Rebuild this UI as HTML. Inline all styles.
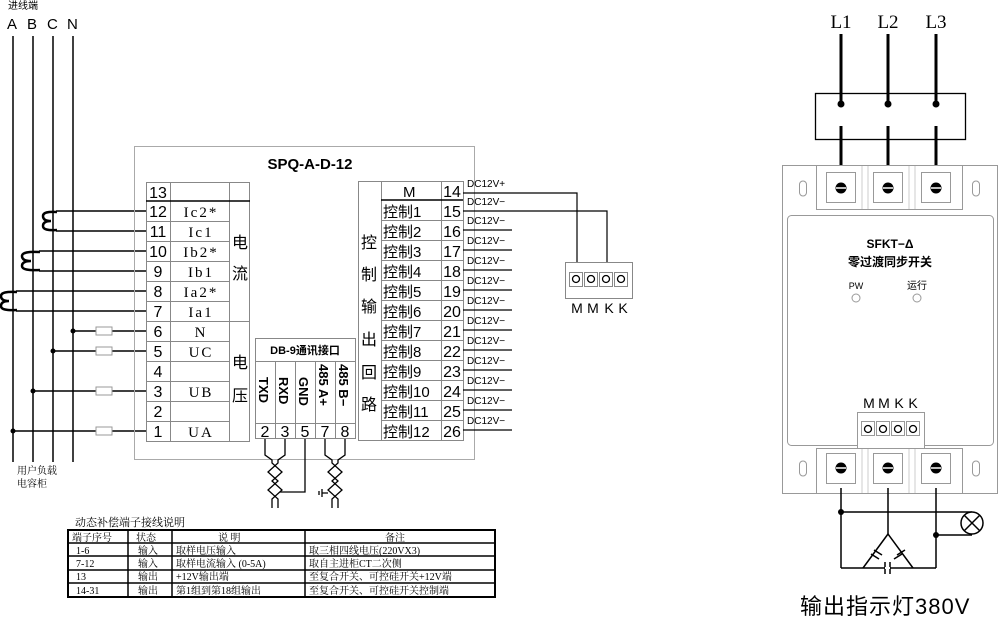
<!DOCTYPE html>
<html><head><meta charset="utf-8"><style>
html,body{margin:0;padding:0;background:#fff}
svg{display:block}
text{font-family:"Liberation Sans","Noto Sans CJK SC",sans-serif;fill:#000}
.s{font-family:"Liberation Serif","Noto Serif CJK SC",serif}
</style></head><body>
<svg width="1000" height="620" viewBox="0 0 1000 620" xmlns="http://www.w3.org/2000/svg">
<text x="8" y="9" font-size="10" fill="#333">进线端</text>
<g font-size="15"><text x="7" y="29">A</text><text x="27" y="29">B</text><text x="47" y="29">C</text><text x="67" y="29">N</text></g>
<g stroke="#000" stroke-width="1.5">
<line x1="13" y1="36" x2="13" y2="462"/><line x1="33" y1="36" x2="33" y2="462"/><line x1="53" y1="36" x2="53" y2="462"/><line x1="73" y1="36" x2="73" y2="462"/>
</g>
<text x="17" y="474" font-size="10" class="s">用户负载</text>
<text x="17" y="487" font-size="10" class="s">电容柜</text>
<g stroke="#000" stroke-width="1.5" fill="none">
<line x1="56" y1="211" x2="146" y2="211"/><line x1="56" y1="231" x2="146" y2="231"/>
<line x1="39" y1="251" x2="146" y2="251"/><line x1="39" y1="271" x2="146" y2="271"/>
<line x1="16" y1="291" x2="146" y2="291"/><line x1="16" y1="311" x2="146" y2="311"/>
<g stroke-width="2.5">
<path d="M57,212 Q43,211 43,216 Q43,221 51,221 Q43,221 43,226 Q43,231 57,230"/>
<path d="M40,252 Q22,251 22,256 Q22,261 31,261 Q22,261 22,266 Q22,271 40,270"/>
<path d="M17,292 Q1,291 1,296 Q1,301 9,301 Q1,301 1,306 Q1,311 17,310"/>
</g>
<line x1="73" y1="331" x2="146" y2="331"/><line x1="53" y1="351" x2="146" y2="351"/>
<line x1="33" y1="391" x2="146" y2="391"/><line x1="13" y1="431" x2="146" y2="431"/>
</g>
<g fill="#000"><circle cx="73" cy="331" r="2.5"/><circle cx="53" cy="351" r="2.5"/><circle cx="33" cy="391" r="2.5"/><circle cx="13" cy="431" r="2.5"/></g>
<g fill="#fff" stroke="#999" stroke-width="1">
<rect x="96" y="327" width="16" height="8"/><rect x="96" y="347" width="16" height="8"/><rect x="96" y="387" width="16" height="8"/><rect x="96" y="427" width="16" height="8"/>
</g>
<rect x="134.5" y="146.5" width="340" height="313" fill="none" stroke="#aaa"/>
<text x="310" y="169" font-size="15" font-weight="bold" text-anchor="middle">SPQ-A-D-12</text>
<g stroke="#888" stroke-width="1" fill="none">
<rect x="146.5" y="182.5" width="103" height="259"/>
<line x1="170.5" y1="182" x2="170.5" y2="442"/><line x1="229.5" y1="182" x2="229.5" y2="442"/>
<line x1="229" y1="321.5" x2="250" y2="321.5"/>
</g>
<line x1="146" y1="201" x2="250" y2="201" stroke="#000" stroke-width="1.5"/>
<g stroke="#888" stroke-width="1">
<line x1="146" y1="221.5" x2="229" y2="221.5"/><line x1="146" y1="241.5" x2="229" y2="241.5"/><line x1="146" y1="261.5" x2="229" y2="261.5"/><line x1="146" y1="281.5" x2="229" y2="281.5"/><line x1="146" y1="301.5" x2="229" y2="301.5"/><line x1="146" y1="321.5" x2="229" y2="321.5"/><line x1="146" y1="341.5" x2="229" y2="341.5"/><line x1="146" y1="361.5" x2="229" y2="361.5"/><line x1="146" y1="381.5" x2="229" y2="381.5"/><line x1="146" y1="401.5" x2="229" y2="401.5"/><line x1="146" y1="421.5" x2="229" y2="421.5"/>
</g>
<g font-size="16" text-anchor="middle">
<text x="158" y="198">13</text><text x="158" y="217">12</text><text x="158" y="237">11</text><text x="158" y="257">10</text><text x="158" y="277">9</text><text x="158" y="297">8</text><text x="158" y="317">7</text><text x="158" y="337">6</text><text x="158" y="357">5</text><text x="158" y="377">4</text><text x="158" y="397">3</text><text x="158" y="417">2</text><text x="158" y="437">1</text>
</g>
<g font-size="15" text-anchor="middle" class="s" letter-spacing="2">
<text x="201" y="217" class="s">Ic2*</text><text x="201" y="237" class="s">Ic1</text><text x="201" y="257" class="s">Ib2*</text><text x="201" y="277" class="s">Ib1</text><text x="201" y="297" class="s">Ia2*</text><text x="201" y="317" class="s">Ia1</text><text x="201" y="337" class="s">N</text><text x="201" y="357" class="s">UC</text><text x="201" y="397" class="s">UB</text><text x="201" y="437" class="s">UA</text>
</g>
<g font-size="16" text-anchor="middle"><text x="240" y="248">电</text><text x="240" y="279">流</text><text x="240" y="368">电</text><text x="240" y="401">压</text></g>
<g stroke="#888" fill="none">
<rect x="255.5" y="338.5" width="100" height="100"/>
<line x1="255" y1="361.5" x2="355" y2="361.5"/><line x1="255" y1="423.5" x2="355" y2="423.5"/>
<line x1="275.5" y1="361" x2="275.5" y2="439"/><line x1="295.5" y1="361" x2="295.5" y2="439"/><line x1="315.5" y1="361" x2="315.5" y2="439"/><line x1="335.5" y1="361" x2="335.5" y2="439"/>
</g>
<text x="305" y="354" font-size="11" font-weight="bold" text-anchor="middle">DB-9通讯接口</text>
<g font-size="13" font-weight="bold">
<text transform="translate(259,377) rotate(90)">TXD</text>
<text transform="translate(279,377) rotate(90)">RXD</text>
<text transform="translate(299,377) rotate(90)">GND</text>
<text transform="translate(319,364) rotate(90)">485 A+</text>
<text transform="translate(339,364) rotate(90)">485 B−</text>
</g>
<g font-size="16" text-anchor="middle"><text x="265" y="437">2</text><text x="285" y="437">3</text><text x="305" y="437">5</text><text x="325" y="437">7</text><text x="345" y="437">8</text></g>
<g stroke="#000" stroke-width="1.3" fill="none">
<path d="M265,439 V455 L272,460 V463 L282,472 L272,481 L282,490 L272,499 V508"/>
<path d="M285,439 V455 L278,460 V463 L268,472 L278,481 L268,490 L278,499 V508"/>
<path d="M305,439 V492 H280"/>
<path d="M325,439 V455 L332,460 V463 L342,472 L332,481 L342,490 L332,499 V508"/>
<path d="M345,439 V455 L338,460 V463 L328,472 L338,481 L328,490 L338,499 V508"/>
<path d="M328,493 H322 M322,489 V497 M319,491 V495"/>
</g>
<g stroke="#888" fill="none">
<rect x="358.5" y="181.5" width="105" height="259"/>
<line x1="381.5" y1="181" x2="381.5" y2="441"/><line x1="441.5" y1="181" x2="441.5" y2="441"/>
<line x1="381" y1="220.5" x2="463" y2="220.5"/><line x1="381" y1="240.5" x2="463" y2="240.5"/><line x1="381" y1="260.5" x2="463" y2="260.5"/><line x1="381" y1="280.5" x2="463" y2="280.5"/><line x1="381" y1="300.5" x2="463" y2="300.5"/><line x1="381" y1="320.5" x2="463" y2="320.5"/><line x1="381" y1="340.5" x2="463" y2="340.5"/><line x1="381" y1="360.5" x2="463" y2="360.5"/><line x1="381" y1="380.5" x2="463" y2="380.5"/><line x1="381" y1="400.5" x2="463" y2="400.5"/><line x1="381" y1="420.5" x2="463" y2="420.5"/>
</g>
<line x1="381" y1="200" x2="463" y2="200" stroke="#000" stroke-width="1.5"/>
<g font-size="16" text-anchor="middle"><text x="369" y="248">控</text><text x="369" y="280">制</text><text x="369" y="312">输</text><text x="369" y="345">出</text><text x="369" y="378">回</text><text x="369" y="410">路</text></g>
<g font-size="15"><text x="403" y="197">M</text>
<text x="383" y="217">控制1</text><text x="383" y="237">控制2</text><text x="383" y="257">控制3</text><text x="383" y="277">控制4</text><text x="383" y="297">控制5</text><text x="383" y="317">控制6</text><text x="383" y="337">控制7</text><text x="383" y="357">控制8</text><text x="383" y="377">控制9</text><text x="383" y="397">控制10</text><text x="383" y="417">控制11</text><text x="383" y="437">控制12</text></g>
<g font-size="16" text-anchor="middle"><text x="452" y="197">14</text><text x="452" y="217">15</text><text x="452" y="237">16</text><text x="452" y="257">17</text><text x="452" y="277">18</text><text x="452" y="297">19</text><text x="452" y="317">20</text><text x="452" y="337">21</text><text x="452" y="357">22</text><text x="452" y="377">23</text><text x="452" y="397">24</text><text x="452" y="417">25</text><text x="452" y="437">26</text></g>
<g stroke="#000" stroke-width="1.2" fill="none">
<path d="M463,193 H577 V270"/><path d="M463,211 H607 V270"/>
<line x1="463" y1="230" x2="512" y2="230"/><line x1="463" y1="250" x2="512" y2="250"/><line x1="463" y1="270" x2="512" y2="270"/><line x1="463" y1="290" x2="512" y2="290"/><line x1="463" y1="310" x2="512" y2="310"/><line x1="463" y1="330" x2="512" y2="330"/><line x1="463" y1="350" x2="512" y2="350"/><line x1="463" y1="370" x2="512" y2="370"/><line x1="463" y1="390" x2="512" y2="390"/><line x1="463" y1="410" x2="512" y2="410"/><line x1="463" y1="430" x2="512" y2="430"/>
</g>
<g font-size="10"><text x="467" y="187">DC12V+</text><text x="467" y="205">DC12V−</text><text x="467" y="224">DC12V−</text><text x="467" y="244">DC12V−</text><text x="467" y="264">DC12V−</text><text x="467" y="284">DC12V−</text><text x="467" y="304">DC12V−</text><text x="467" y="324">DC12V−</text><text x="467" y="344">DC12V−</text><text x="467" y="364">DC12V−</text><text x="467" y="384">DC12V−</text><text x="467" y="404">DC12V−</text><text x="467" y="424">DC12V−</text></g>
<g stroke="#888" fill="#fff">
<rect x="565.5" y="262.5" width="67" height="36"/>
<rect x="569.5" y="272.5" width="13" height="14"/><rect x="584.5" y="272.5" width="13" height="14"/><rect x="599.5" y="272.5" width="13" height="14"/><rect x="614.5" y="272.5" width="13" height="14"/>
</g>
<g stroke="#000" stroke-width="1.3" fill="none"><circle cx="576" cy="279" r="3.5"/><circle cx="591" cy="279" r="3.5"/><circle cx="606" cy="279" r="3.5"/><circle cx="621" cy="279" r="3.5"/></g>
<g font-size="14" text-anchor="middle"><text x="577" y="313">M</text><text x="593" y="313">M</text><text x="609" y="313">K</text><text x="623" y="313">K</text></g>
<text x="75" y="526" font-size="11" class="s" fill="#333">动态补偿端子接线说明</text>
<g stroke="#000" fill="none"><rect x="68" y="530" width="427" height="67" stroke-width="2"/>
<g stroke-width="1.5"><line x1="128" y1="530" x2="128" y2="597"/><line x1="172" y1="530" x2="172" y2="597"/><line x1="305" y1="530" x2="305" y2="597"/>
<line x1="68" y1="543" x2="495" y2="543"/><line x1="68" y1="556" x2="495" y2="556"/><line x1="68" y1="570" x2="495" y2="570"/><line x1="68" y1="583" x2="495" y2="583"/></g></g>
<g font-size="10" class="s" fill="#222">
<text x="72" y="541" class="s">端子序号</text><text x="136" y="541" class="s">状态</text><text x="218" y="541" class="s">说  明</text><text x="385" y="541" class="s">备注</text>
<text x="76" y="554" class="s">1-6</text><text x="138" y="554" class="s">输入</text><text x="176" y="554" class="s">取样电压输入</text><text x="309" y="554" class="s">取三相四线电压(220VX3)</text>
<text x="76" y="567" class="s">7-12</text><text x="138" y="567" class="s">输入</text><text x="176" y="567" class="s">取样电流输入 (0-5A)</text><text x="309" y="567" class="s">取自主进柜CT二次侧</text>
<text x="76" y="580" class="s">13</text><text x="138" y="580" class="s">输出</text><text x="176" y="580" class="s">+12V输出端</text><text x="309" y="580" class="s">至复合开关、可控硅开关+12V端</text>
<text x="76" y="594" class="s">14-31</text><text x="138" y="594" class="s">输出</text><text x="176" y="594" class="s">第1组到第18组输出</text><text x="309" y="594" class="s">至复合开关、可控硅开关控制端</text>
</g>
<g font-size="19" class="s" text-anchor="middle"><text x="841" y="28" class="s">L1</text><text x="888" y="28" class="s">L2</text><text x="936" y="28" class="s">L3</text></g>
<rect x="815.5" y="93.5" width="150" height="46" fill="none" stroke="#000" stroke-width="1.3"/>
<g stroke="#000" stroke-width="3"><line x1="841" y1="34" x2="841" y2="104"/><line x1="888" y1="34" x2="888" y2="104"/><line x1="936" y1="34" x2="936" y2="104"/>
<line x1="841" y1="126" x2="841" y2="166"/><line x1="888" y1="126" x2="888" y2="166"/><line x1="936" y1="126" x2="936" y2="166"/></g>
<g fill="#000"><circle cx="841" cy="104" r="3.5"/><circle cx="888" cy="104" r="3.5"/><circle cx="936" cy="104" r="3.5"/></g>
<g stroke="#999" fill="#fff" stroke-width="1">
<rect x="782.5" y="165.5" width="215" height="328"/>
<rect x="787.5" y="215.5" width="206" height="230" rx="4"/>
<rect x="816.5" y="165.5" width="146" height="44"/><rect x="816.5" y="448.5" width="146" height="45"/>
<rect x="826.5" y="172.5" width="29" height="30"/><rect x="873.5" y="172.5" width="29" height="30"/><rect x="921.5" y="172.5" width="29" height="30"/>
<rect x="826.5" y="453.5" width="29" height="30"/><rect x="873.5" y="453.5" width="29" height="30"/><rect x="921.5" y="453.5" width="29" height="30"/>
<rect x="799.5" y="181" width="7" height="15" rx="3.5"/><rect x="972.5" y="181" width="7" height="15" rx="3.5"/>
<rect x="799.5" y="461" width="7" height="15" rx="3.5"/><rect x="972.5" y="461" width="7" height="15" rx="3.5"/>
<rect x="857.5" y="412.5" width="67" height="36"/>
<circle cx="856" cy="298" r="4"/><circle cx="917" cy="298" r="4"/>
</g>
<g stroke="#ccc"><line x1="862" y1="166" x2="862" y2="209"/><line x1="868" y1="166" x2="868" y2="209"/><line x1="909" y1="166" x2="909" y2="209"/><line x1="915" y1="166" x2="915" y2="209"/>
<line x1="862" y1="449" x2="862" y2="493"/><line x1="868" y1="449" x2="868" y2="493"/><line x1="909" y1="449" x2="909" y2="493"/><line x1="915" y1="449" x2="915" y2="493"/></g>
<g fill="#000"><circle cx="841" cy="188" r="5.5"/><circle cx="888" cy="188" r="5.5"/><circle cx="936" cy="188" r="5.5"/><circle cx="841" cy="468" r="5.5"/><circle cx="888" cy="468" r="5.5"/><circle cx="936" cy="468" r="5.5"/></g>
<g stroke="#fff" stroke-width="1.5"><line x1="836" y1="188" x2="846" y2="188"/><line x1="883" y1="188" x2="893" y2="188"/><line x1="931" y1="188" x2="941" y2="188"/><line x1="836" y1="468" x2="846" y2="468"/><line x1="883" y1="468" x2="893" y2="468"/><line x1="931" y1="468" x2="941" y2="468"/></g>
<g stroke="#999" fill="#fff"><rect x="861.5" y="421.5" width="13" height="14"/><rect x="876.5" y="421.5" width="13" height="14"/><rect x="891.5" y="421.5" width="13" height="14"/><rect x="906.5" y="421.5" width="13" height="14"/></g>
<g stroke="#000" stroke-width="1.3" fill="none"><circle cx="868" cy="429" r="3.5"/><circle cx="883" cy="429" r="3.5"/><circle cx="898" cy="429" r="3.5"/><circle cx="913" cy="429" r="3.5"/></g>
<text x="890" y="248" font-size="12" font-weight="bold" text-anchor="middle">SFKT−Δ</text>
<text x="890" y="266" font-size="12" font-weight="bold" text-anchor="middle">零过渡同步开关</text>
<text x="856" y="289" font-size="9" text-anchor="middle">PW</text><text x="917" y="289" font-size="10" text-anchor="middle">运行</text>
<g font-size="14" text-anchor="middle"><text x="869" y="408">M</text><text x="884" y="408">M</text><text x="899" y="408">K</text><text x="913" y="408">K</text></g>
<g stroke="#000" stroke-width="1.5" fill="none">
<line x1="841" y1="488" x2="841" y2="568"/><line x1="888" y1="488" x2="888" y2="534"/><line x1="936" y1="488" x2="936" y2="568"/>
<line x1="841" y1="568" x2="936" y2="568"/><line x1="841" y1="512" x2="972" y2="512"/><line x1="936" y1="535" x2="972" y2="535"/>
<path d="M888,534 L863,568 M888,534 L913,568"/>
<circle cx="972" cy="523" r="11" fill="#fff"/>
<path d="M964,515 L980,531 M980,515 L964,531"/>
</g>
<g stroke="#000" stroke-width="1.5"><line x1="871" y1="554" x2="879" y2="559"/><line x1="874" y1="550" x2="882" y2="555"/><line x1="897" y1="555" x2="905" y2="550"/><line x1="894" y1="559" x2="902" y2="554"/>
<line x1="885" y1="562" x2="885" y2="574"/><line x1="890" y1="562" x2="890" y2="574"/></g>
<line x1="885" y1="568" x2="890" y2="568" stroke="#fff" stroke-width="2"/>
<g fill="#000"><circle cx="841" cy="512" r="3"/><circle cx="936" cy="535" r="3"/></g>
<text x="800" y="614" font-size="22" letter-spacing="1">输出指示灯380V</text>
</svg>
</body></html>
